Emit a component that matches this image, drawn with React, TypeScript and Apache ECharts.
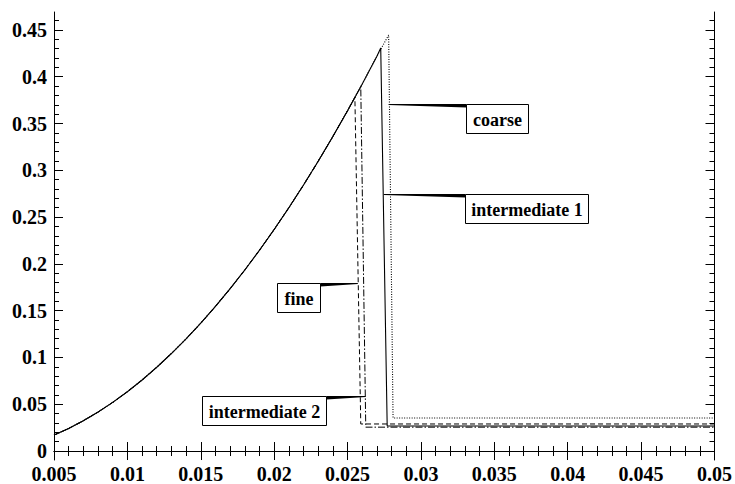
import React, { useEffect, useRef } from "react";
import * as echarts from "echarts";

// Shared rising branch (all four meshes coincide here)
const risingX = [
  0.005, 0.006, 0.007, 0.008, 0.009, 0.01, 0.011, 0.012, 0.013, 0.014, 0.015, 0.016,
  0.017, 0.018, 0.019, 0.02, 0.021, 0.022, 0.023, 0.024, 0.025, 0.026, 0.027,
];
const risingY = [
  0.017, 0.0241, 0.0324, 0.0416, 0.052, 0.0634, 0.0759, 0.0895, 0.1042, 0.1199, 0.1367,
  0.1546, 0.1735, 0.1935, 0.2146, 0.2368, 0.26, 0.2843, 0.3097, 0.3362, 0.3637, 0.3923, 0.422,
];

// Per-mesh peak, drop and residual plateau
const seriesNames = ["coarse", "intermediate 1", "fine", "intermediate 2"];
const peakX = [0.0278, 0.02726, 0.0255, 0.0259];
const peakY = [0.4446, 0.4307, 0.378, 0.3894];
const dropX = [0.0281, 0.0277, 0.0259, 0.02624];
const floorY = [0.0353, 0.0267, 0.0289, 0.0255];
const endX = [0.05, 0.05, 0.05, 0.05];

// Axis ticks
const xTickLabels = ["0.005", "0.01", "0.015", "0.02", "0.025", "0.03", "0.035", "0.04", "0.045", "0.05"];
const yMajor = [0, 0.05, 0.1, 0.15, 0.2, 0.25, 0.3, 0.35, 0.4, 0.45];
const yMinor = [
  0.01, 0.02, 0.03, 0.04, 0.06, 0.07, 0.08, 0.09, 0.11, 0.12, 0.13, 0.14,
  0.16, 0.17, 0.18, 0.19, 0.21, 0.22, 0.23, 0.24, 0.26, 0.27, 0.28, 0.29, 0.31,
  0.32, 0.33, 0.34, 0.36, 0.37, 0.38, 0.39, 0.41, 0.42, 0.43, 0.44, 0.46,
];
const yMin = -0.0096;
const yMax = 0.4692;

// Annotations: leader tip on the curve, and box attachment x (same y as tip)
const annLabels = ["coarse", "intermediate 1", "fine", "intermediate 2"];
const annTipX = [0.0278, 0.02747, 0.0257, 0.02624];
const annTipY = [0.371, 0.2747, 0.1796, 0.0593];
const annBoxX = [0.0331, 0.03303, 0.02312, 0.02353];

// Styles (kept apart from data)
const boxW = [62, 123, 43, 124];
const boxH = 29;
const boxSide = ["right", "right", "left", "left"];
const lineTypes: any[] = [[1, 1.5], "solid", [5, 3], [7, 2, 1.5, 2]];
const lineWidths = [1.1, 1.1, 1, 1];
const lineColors = ["#000", "#000", "#000", "#000"];

const FONT = "Liberation Serif";

function seriesData(i: number) {
  const pts: number[][] = [];
  for (let k = 0; k < risingX.length; k++) {
    if (risingX[k] < peakX[i] - 0.0002) pts.push([risingX[k], risingY[k]]);
  }
  pts.push([peakX[i], peakY[i]]);
  pts.push([dropX[i], floorY[i]]);
  pts.push([endX[i], floorY[i]]);
  return pts;
}

const xFmt = (v: number) => {
  let best = xTickLabels[0];
  let bd = Infinity;
  for (const s of xTickLabels) {
    const d = Math.abs(parseFloat(s) - v);
    if (d < bd) {
      bd = d;
      best = s;
    }
  }
  return best;
};

export default function App() {
  const ref = useRef<HTMLDivElement>(null);
  useEffect(() => {
    if (!ref.current) return;
    const chart = echarts.init(ref.current, null, { renderer: "svg" });
    const axisLine = { show: true, lineStyle: { color: "#000", width: 1 } };
    const labelStyle = {
      fontFamily: FONT,
      fontWeight: "bold" as const,
      fontSize: 20,
      color: "#000",
    };
    const xBase = (pos: "bottom" | "top", showLabel: boolean) => ({
      type: "value",
      position: pos,
      min: 0.005,
      max: 0.05,
      interval: 0.005,
      axisLine,
      splitLine: { show: false },
      axisTick: { show: true, inside: true, length: 9, lineStyle: { color: "#000" } },
      minorTick: { show: true, splitNumber: 5, length: 5, lineStyle: { color: "#000" } },
      axisLabel: { show: showLabel, formatter: xFmt, margin: 4, ...labelStyle },
    });
    const yMain = (pos: "left" | "right", showLabel: boolean) => ({
      type: "value",
      position: pos,
      min: yMin,
      max: yMax,
      axisLine,
      splitLine: { show: false },
      axisTick: {
        show: true,
        inside: true,
        length: 9,
        customValues: yMajor,
        lineStyle: { color: "#000" },
      },
      axisLabel: {
        show: showLabel,
        customValues: yMajor,
        formatter: (v: number) => String(v),
        margin: 7,
        ...labelStyle,
      },
    });
    const yMinorAxis = (pos: "left" | "right") => ({
      type: "value",
      position: pos,
      min: yMin,
      max: yMax,
      axisLine: { show: false },
      splitLine: { show: false },
      axisTick: {
        show: true,
        inside: true,
        length: 5,
        customValues: yMinor,
        lineStyle: { color: "#000" },
      },
      axisLabel: { show: false },
    });

    const order = [0, 2, 3, 1];
    const option: any = {
      animation: false,
      backgroundColor: "#fff",
      grid: { left: 54, right: 18, top: 12, bottom: 24, containLabel: false },
      xAxis: [xBase("bottom", true), xBase("top", false)],
      yAxis: [yMain("left", true), yMain("right", false), yMinorAxis("left"), yMinorAxis("right")],
      series: order.map((i) => ({
        name: seriesNames[i],
        type: "line",
        xAxisIndex: 0,
        yAxisIndex: 0,
        showSymbol: false,
        symbol: "none",
        smooth: false,
        data: seriesData(i),
        lineStyle: { color: lineColors[i], width: lineWidths[i], type: lineTypes[i] },
        z: 2,
      })),
    };
    chart.setOption(option);

    const graphics: any[] = [];
    for (let i = 0; i < annLabels.length; i++) {
      const tip = chart.convertToPixel({ xAxisIndex: 0, yAxisIndex: 0 }, [annTipX[i], annTipY[i]]) as number[];
      const box = chart.convertToPixel({ xAxisIndex: 0, yAxisIndex: 0 }, [annBoxX[i], annTipY[i]]) as number[];
      const ty = Math.round(tip[1]) + 0.5;
      const bx = Math.round(box[0]) + 0.5;
      graphics.push({
        type: "polygon",
        shape: {
          points: [
            [tip[0], ty - 0.5],
            [bx, ty - 0.5],
            [bx, ty + 3],
            [tip[0], ty + 0.5],
          ],
        },
        style: { fill: "#000" },
        z: 10,
      });
      const rx = boxSide[i] === "right" ? bx : bx - boxW[i];
      graphics.push({
        type: "rect",
        shape: { x: rx, y: ty, width: boxW[i], height: boxH },
        style: { fill: "#fff", stroke: "#000", lineWidth: 1 },
        z: 11,
      });
      graphics.push({
        type: "text",
        x: rx + boxW[i] / 2,
        y: ty + boxH / 2 + 1,
        style: {
          text: annLabels[i],
          fill: "#000",
          fontFamily: FONT,
          fontWeight: "bold",
          fontSize: 18,
          align: "center",
          verticalAlign: "middle",
        },
        z: 12,
      });
    }
    chart.setOption({ graphic: graphics });

    return () => chart.dispose();
  }, []);
  return (
    <div
      ref={ref}
      style={{ position: "fixed", left: 0, top: 0, width: 735, height: 484, background: "#fff" }}
    />
  );
}
